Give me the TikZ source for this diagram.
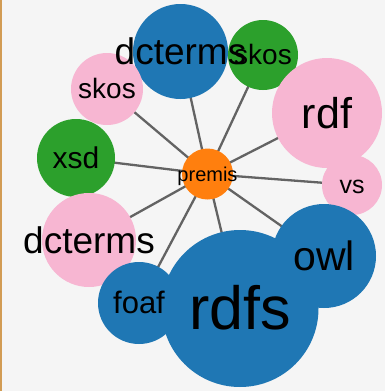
\documentclass[tikz,border=0pt]{standalone}
\usepackage{fontspec}
\setmainfont{Liberation Sans}
\definecolor{cblue}{HTML}{1F77B4}
\definecolor{corange}{HTML}{FF7F0E}
\definecolor{cgreen}{HTML}{2CA02C}
\definecolor{cpink}{HTML}{F7B6D2}
\definecolor{bgc}{HTML}{F5F5F5}
\definecolor{edgec}{HTML}{636363}
\definecolor{borderc}{HTML}{D29C54}
\pgfdeclarelayer{edgelayer}
\pgfdeclarelayer{backlayer}
\pgfsetlayers{backlayer,edgelayer,main}
\tikzset{
  bubble/.style={circle, draw=none, inner sep=0pt, outer sep=0pt},
  lbl/.style={anchor=base, inner sep=0pt, text=black},
  link/.style={draw=edgec, line width=2.3pt}
}
\newcommand{\fsz}[1]{\fontsize{#1}{#1}\selectfont}
\begin{document}
\begin{tikzpicture}[x=1pt,y=-1pt]
\begin{pgfonlayer}{backlayer}
  \fill[bgc] (0,0) rectangle (385,391);
  \fill[borderc] (0,0) rectangle (2,391);
\end{pgfonlayer}
\useasboundingbox (0,0) rectangle (385,391);
% circles
\node[bubble, fill=cblue,  minimum size=95pt]  (dctermsT) at (180.5,51.5) {};
\node[bubble, fill=cgreen, minimum size=70pt]  (skosG)    at (263,55) {};
\node[bubble, fill=cpink,  minimum size=110pt] (rdf)      at (327,113) {};
\node[bubble, fill=cpink,  minimum size=60pt]  (vs)       at (352,185) {};
\node[bubble, fill=cpink,  minimum size=72pt]  (skosP)    at (107,89) {};
\node[bubble, fill=cgreen, minimum size=78pt]  (xsd)      at (76,158) {};
\node[bubble, fill=cpink,  minimum size=94pt]  (dctermsL) at (89,240) {};
\node[bubble, fill=cblue,  minimum size=104pt] (owl)      at (324,256) {};
\node[bubble, fill=cblue,  minimum size=157pt] (rdfs)     at (240,308.5) {};
\node[bubble, fill=cblue,  minimum size=82pt]  (foaf)     at (139,303) {};
\node[bubble, fill=corange,minimum size=51pt]  (premis)   at (207.5,174) {};
% links
\begin{pgfonlayer}{edgelayer}
  \foreach \t in {dctermsT,skosG,rdf,vs,skosP,xsd,dctermsL,owl,rdfs,foaf}
    \draw[link] (premis.center) -- (\t.center);
\end{pgfonlayer}
% labels
\node[lbl, font=\fsz{37}] (tdctermsT) at (180.5,64.5) {dcterms};
\node[lbl, font=\fsz{28}] (tskosG)    at (263,64.8) {skos};
\node[lbl, font=\fsz{43}] (trdf)      at (327,128) {rdf};
\node[lbl, font=\fsz{25}] (tvs)       at (352,193.8) {vs};
\node[lbl, font=\fsz{28}] (tskosP)    at (107,98.8) {skos};
\node[lbl, font=\fsz{30}] (txsd)      at (76,168.5) {xsd};
\node[lbl, font=\fsz{37}] (tdctermsL) at (89,253) {dcterms};
\node[lbl, font=\fsz{41}] (towl)      at (324,270.4) {owl};
\node[lbl, font=\fsz{61}] (trdfs)     at (240,329.8) {rdfs};
\node[lbl, font=\fsz{31}] (tfoaf)     at (139,313.9) {foaf};
\node[lbl, font=\fsz{20}] (tpremis)   at (207.5,181) {premis};
\end{tikzpicture}
\end{document}
